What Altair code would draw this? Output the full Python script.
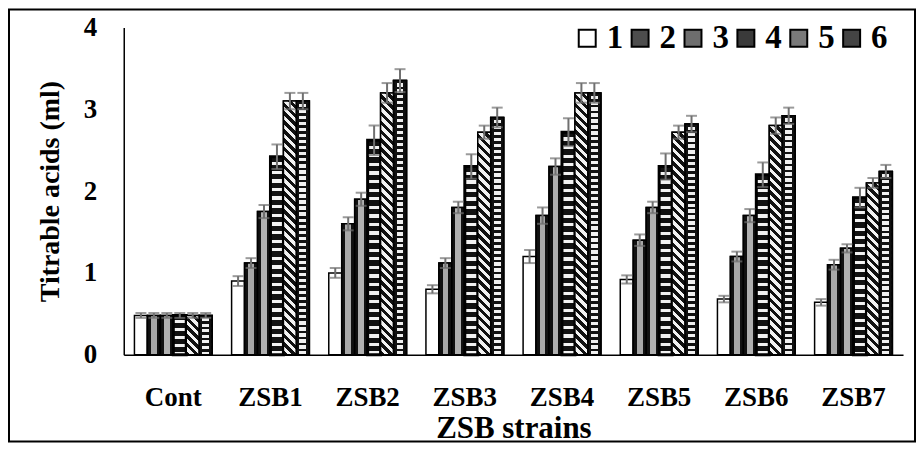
import altair as alt
import pandas as pd

groups = ["Cont", "ZSB1", "ZSB2", "ZSB3", "ZSB4", "ZSB5", "ZSB6", "ZSB7"]
series = ["1", "2", "3", "4", "5", "6"]

s1 = [0.48, 0.90, 1.00, 0.80, 1.20, 0.92, 0.68, 0.64]
s2 = [0.48, 1.12, 1.60, 1.12, 1.70, 1.40, 1.20, 1.10]
s3 = [0.48, 1.75, 1.90, 1.80, 2.30, 1.80, 1.70, 1.30]
s4 = [0.48, 2.42, 2.62, 2.30, 2.72, 2.30, 2.20, 1.92]
s5 = [0.48, 3.10, 3.20, 2.72, 3.20, 2.72, 2.80, 2.10]
s6 = [0.48, 3.10, 3.35, 2.90, 3.20, 2.82, 2.92, 2.24]

e1 = [0.03, 0.06, 0.06, 0.05, 0.08, 0.05, 0.04, 0.04]
e2 = [0.03, 0.06, 0.08, 0.06, 0.10, 0.07, 0.06, 0.06]
e3 = [0.03, 0.08, 0.08, 0.07, 0.10, 0.07, 0.08, 0.05]
e4 = [0.03, 0.15, 0.18, 0.15, 0.17, 0.16, 0.15, 0.12]
e5 = [0.03, 0.10, 0.12, 0.08, 0.12, 0.08, 0.10, 0.06]
e6 = [0.03, 0.10, 0.14, 0.12, 0.12, 0.10, 0.10, 0.08]

fills = ["#ffffff", "#4d4d4d", "#6e6e6e", "#3a3a3a", "#7a7a7a", "#444444"]

vals = [s1, s2, s3, s4, s5, s6]
errs = [e1, e2, e3, e4, e5, e6]
rows = []
for si, s in enumerate(series):
    for gi, g in enumerate(groups):
        v = vals[si][gi]
        e = errs[si][gi]
        rows.append({"group": g, "series": s, "value": v, "lo": v - e, "hi": v + e})
df = pd.DataFrame(rows)

FONT = "Liberation Serif"
W, H = 781, 328
PAD_IN, PAD_OUT = 0.2, 0.11
BAR_W = W / (len(groups) - PAD_IN + 2 * PAD_OUT) * (1 - PAD_IN) / len(series)
PX_PER_UNIT = H / 4.0
DARK = "#111111"
CLEAR = "rgba(17,17,17,0)"


def grad(stops, x1, y1, x2, y2):
    return alt.LinearGradient(
        gradient="linear",
        stops=[alt.GradientStop(color=c, offset=float(min(1.0, o))) for o, c in stops],
        x1=x1, y1=y1, x2=x2, y2=y2)


def stripes(n, frac_dark, dark=DARK, light="#f2f2f2"):
    st = []
    for k in range(n):
        a, b, c = k / n, (k + frac_dark) / n, (k + 1) / n
        st += [(a, dark), (b, dark), (b, light), (c, light)]
    return st


def band(lo, hi, mid):
    return grad([(0, DARK), (lo, DARK), (lo, mid), (hi, mid), (hi, DARK), (1, DARK)], 0, 0, 1, 0)


x_enc = alt.X("group:N", sort=groups, scale=alt.Scale(paddingInner=PAD_IN, paddingOuter=PAD_OUT),
              axis=alt.Axis(title="ZSB strains", labelAngle=0, ticks=False, labelPadding=30,
                            titlePadding=3, labelFontSize=27, titleFontSize=31))
xo_enc = alt.XOffset("series:N", sort=series)
xg = alt.X("group:N", sort=groups)
y_enc = alt.Y("value:Q", scale=alt.Scale(domain=[0, 4]),
              axis=alt.Axis(title="Titrable acids (ml)", values=[0, 1, 2, 3, 4], format="d",
                            ticks=False, grid=False, labelPadding=27, titlePadding=19,
                            labelFontSize=27, titleFontSize=28))

base = alt.Chart(df)

bars = base.mark_bar(stroke="black", strokeWidth=1.5).encode(
    x=x_enc,
    xOffset=xo_enc,
    y=y_enc,
    color=alt.Color("series:N", sort=series,
                    scale=alt.Scale(domain=series, range=fills),
                    legend=alt.Legend(title=None, orient="none", legendX=448, legendY=-6,
                                      direction="horizontal", symbolType="square",
                                      symbolSize=289, symbolStrokeColor="black",
                                      symbolStrokeWidth=2, labelFontSize=33,
                                      labelFont=FONT, labelFontWeight="bold",
                                      labelOffset=3, columnPadding=0, padding=0)),
)

layers = [bars]

# textured overlays approximating the hatch patterns
for s, tex in [("2", band(0.28, 0.72, "#a8a8a8")), ("3", band(0.28, 0.72, "#b0b0b0")),
               ("6", band(0.24, 0.76, "#f0f0f0"))]:
    layers.append(base.transform_filter(alt.datum.series == s).mark_bar(
        color=tex, stroke="black", strokeWidth=1.5).encode(x=xg, xOffset=xo_enc, y="value:Q"))

for gi, g in enumerate(groups):
    # series 4: horizontal white dashes on black
    h4 = s4[gi] * PX_PER_UNIT
    n4 = max(1, round(h4 / 8.5))
    t4 = grad(stripes(n4, 0.62), 0, 0, 0, 1)
    layers.append(base.transform_filter((alt.datum.series == "4") & (alt.datum.group == g)).mark_bar(
        color=t4, stroke="black", strokeWidth=3).encode(x=xg, xOffset=xo_enc, y="value:Q"))
    # series 5: diagonal stripes "\"
    h5 = s5[gi] * PX_PER_UNIT
    r = h5 / BAR_W
    a = (1 + r) / (1 + r * r)
    n5 = max(1, round((BAR_W + h5) / 9.0))
    t5 = grad(stripes(n5, 0.5), 0, 1, a, 1 - a * r)
    layers.append(base.transform_filter((alt.datum.series == "5") & (alt.datum.group == g)).mark_bar(
        color=t5, stroke="black", strokeWidth=1.5).encode(x=xg, xOffset=xo_enc, y="value:Q"))
    # series 6: small dark breaks over the light centre band (dotted look)
    h6 = s6[gi] * PX_PER_UNIT
    n6 = max(1, round(h6 / 6.0))
    t6 = grad(stripes(n6, 0.45, dark=DARK, light=CLEAR), 0, 0, 0, 1)
    layers.append(base.transform_filter((alt.datum.series == "6") & (alt.datum.group == g)).mark_bar(
        color=t6, strokeWidth=0).encode(x=xg, xOffset=xo_enc, y="value:Q"))
    layers.append(base.transform_filter((alt.datum.series == "6") & (alt.datum.group == g)).mark_bar(
        fill=None, stroke="black", strokeWidth=1.5).encode(x=xg, xOffset=xo_enc, y="value:Q"))

ecol = "#707070"
layers.append(base.mark_rule(color=ecol, strokeWidth=2).encode(
    x=xg, xOffset=xo_enc, y="lo:Q", y2="hi:Q"))
layers.append(base.mark_tick(color=ecol, thickness=2, size=11).encode(
    x=xg, xOffset=xo_enc, y="hi:Q"))
layers.append(base.mark_tick(color=ecol, thickness=2, size=11).encode(
    x=xg, xOffset=xo_enc, y="lo:Q"))

frame = alt.Chart(pd.DataFrame({"f": [0]})).mark_rect(
    fill=None, stroke="black", strokeWidth=2).encode(
    x=alt.value(-115), x2=alt.value(793), y=alt.value(-18), y2=alt.value(415))
layers.append(frame)

chart = alt.layer(*layers).properties(
    width=W, height=H, padding=0, background="white"
).configure_view(strokeWidth=0).configure_axis(
    labelFont=FONT, titleFont=FONT, labelFontWeight="bold", titleFontWeight="bold",
    labelColor="black", titleColor="black", domainColor="black", domainWidth=1.5
)

chart.save("out.html", embed_options={"renderer": "svg", "actions": False})
